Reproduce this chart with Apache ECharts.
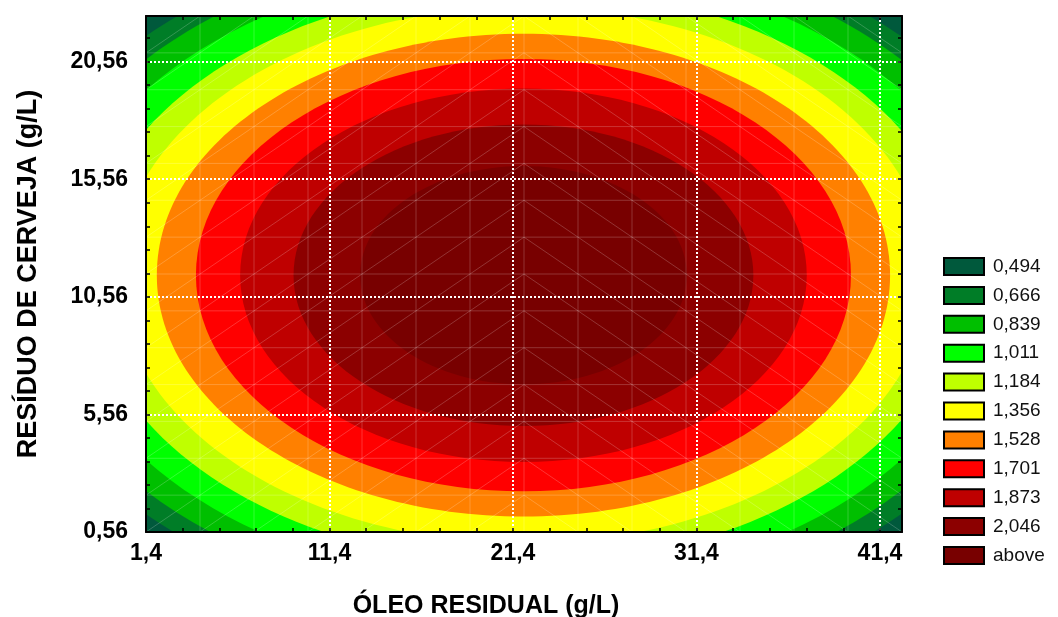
<!DOCTYPE html>
<html><head><meta charset="utf-8">
<script src="https://cdn.jsdelivr.net/npm/echarts@6/dist/echarts.min.js"></script>
<style>html,body{margin:0;padding:0;background:#fff}#c{width:1058px;height:617px}</style>
</head><body><div id="c"></div>
<script>
// ---- data ----
const levelLabels = ['0,494','0,666','0,839','1,011','1,184','1,356','1,528','1,701','1,873','2,046','above'];
const bandColors  = ['#00593c','#007d27','#00bf00','#00ff00','#bfff00','#ffff00','#ff8000','#ff0000','#bf0000','#8c0000','#780000'];
// contour boundaries (levels 0,494 ... 2,046) as ellipses in data units
const contourCenterX = [21.97, 21.97, 21.97, 21.97, 21.97, 21.97, 21.97, 21.97, 21.97, 21.97];
const contourCenterY = [11.48, 11.48, 11.48, 11.48, 11.48, 11.48, 11.48, 11.48, 11.48, 11.48];
const contourSemiX   = [28.5, 27.2, 25.6, 23.8, 22.1, 19.98, 17.85, 15.44, 12.53, 8.90];
const contourSemiY   = [14.69, 14.02, 13.2, 12.27, 11.39, 10.26, 9.19, 7.94, 6.41, 4.64];
const xTickValues = [1.4, 11.4, 21.4, 31.4, 41.4];
const yTickValues = [0.56, 5.56, 10.56, 15.56, 20.56];
const xRange = [1.4, 42.6];
const yRange = [0.56, 22.5];
const xTitle = 'ÓLEO RESIDUAL (g/L)';
const yTitle = 'RESÍDUO DE CERVEJA (g/L)';

// ---- chart ----
const chart = echarts.init(document.getElementById('c'), null, {renderer: 'canvas'});
const arial = "'Liberation Sans', Arial, sans-serif";

function fmtX(v) { return xTickValues.some(t => Math.abs(t - v) < 1e-6) ? v.toFixed(1).replace('.', ',') : ''; }
function fmtY(v) { return yTickValues.some(t => Math.abs(t - v) < 1e-6) ? v.toFixed(2).replace('.', ',') : ''; }

function renderBackground(params, api) {
  const cs = params.coordSys;
  return {type: 'rect', shape: {x: cs.x, y: cs.y, width: cs.width, height: cs.height}, style: {fill: api.visual('color')}};
}
function renderContour(params, api) {
  const c = api.coord([api.value(0), api.value(1)]);
  const s = api.size([api.value(2), api.value(3)]);
  return {type: 'ellipse', shape: {cx: c[0], cy: c[1], rx: s[0], ry: s[1]}, style: {fill: api.visual('color')}};
}
function renderMesh(params, api) {
  const cs = params.coordSys, n = 14, children = [];
  const cw = cs.width / n, ch = cs.height / n;
  const st = {stroke: 'rgba(255,255,255,0.2)', lineWidth: 1};
  for (let i = 1; i < n; i++) {
    children.push({type: 'line', shape: {x1: cs.x + i * cw, y1: cs.y, x2: cs.x + i * cw, y2: cs.y + cs.height}, style: st});
    children.push({type: 'line', shape: {x1: cs.x, y1: cs.y + i * ch, x2: cs.x + cs.width, y2: cs.y + i * ch}, style: st});
  }
  for (let i = 0; i < n; i++) {
    for (let j = 0; j < n; j++) {
      const x0 = cs.x + i * cw, y0 = cs.y + j * ch;
      if (i < n / 2) children.push({type: 'line', shape: {x1: x0, y1: y0 + ch, x2: x0 + cw, y2: y0}, style: st});
      else children.push({type: 'line', shape: {x1: x0, y1: y0, x2: x0 + cw, y2: y0 + ch}, style: st});
    }
  }
  return {type: 'group', children};
}

const series = [];
series.push({
  name: levelLabels[0], type: 'custom', xAxisIndex: 0, yAxisIndex: 0, clip: true, z: 2,
  itemStyle: {color: bandColors[0]}, renderItem: renderBackground,
  data: [[xRange[0], yRange[0]]], silent: true
});
for (let i = 1; i < levelLabels.length; i++) {
  series.push({
    name: levelLabels[i], type: 'custom', xAxisIndex: 0, yAxisIndex: 0, clip: true, z: 2,
    itemStyle: {color: bandColors[i]}, renderItem: renderContour, encode: {x: 0, y: 1},
    data: [[contourCenterX[i - 1], contourCenterY[i - 1], contourSemiX[i - 1], contourSemiY[i - 1]]], silent: true
  });
}
series.push({
  name: 'mesh', type: 'custom', xAxisIndex: 0, yAxisIndex: 0, clip: true, z: 3, silent: true,
  renderItem: renderMesh, data: [[xRange[0], yRange[0]]]
});

const tickAxis = (pos, min, max, interval) => ({
  type: 'value', position: pos, min, max, interval, z: 6,
  axisLine: {show: true, lineStyle: {color: '#000', width: 2}},
  axisTick: {show: true, inside: true, length: 4, lineStyle: {color: '#000', width: 1.5}},
  axisLabel: {show: false}, splitLine: {show: false}
});

chart.setOption({
  animation: false,
  backgroundColor: '#fff',
  grid: {left: 146, top: 16, width: 756, height: 516, containLabel: false, outerBoundsMode: 'none'},
  legend: {
    data: levelLabels, orient: 'vertical', left: 943, top: 257, padding: 0,
    icon: 'rect', itemWidth: 40, itemHeight: 17, itemGap: 9.9,
    itemStyle: {borderColor: '#000', borderWidth: 2},
    textStyle: {fontFamily: arial, fontSize: 19, color: '#111', lineHeight: 17, padding: [0, 0, 0, 4]},
    selectedMode: false
  },
  xAxis: [
    {
      type: 'value', position: 'bottom', min: xRange[0], max: xRange[1], interval: 10, z: 5,
      axisLine: {show: false}, axisTick: {show: false},
      axisLabel: {show: true, showMaxLabel: false, margin: 10, color: '#000', fontFamily: arial, fontWeight: 'bold', fontSize: 23, formatter: fmtX},
      splitLine: {show: true, showMinLine: false, showMaxLine: false, lineStyle: {color: '#fff', width: 2, type: [2, 2]}},
      name: xTitle, nameLocation: 'middle', nameGap: 62,
      nameTextStyle: {color: '#000', fontFamily: arial, fontWeight: 'bold', fontSize: 25, padding: [0, 76, 0, 0]}
    },
    tickAxis('bottom', xRange[0], xRange[1], 2),
    tickAxis('top', xRange[0], xRange[1], 2)
  ],
  yAxis: [
    {
      type: 'value', position: 'left', min: yRange[0], max: yRange[1], interval: 5, z: 5,
      axisLine: {show: false}, axisTick: {show: false},
      axisLabel: {show: true, showMaxLabel: false, margin: 18, color: '#000', fontFamily: arial, fontWeight: 'bold', fontSize: 23, formatter: fmtY},
      splitLine: {show: true, showMinLine: false, showMaxLine: false, lineStyle: {color: '#fff', width: 2, type: [2, 2]}},
      name: yTitle, nameLocation: 'middle', nameGap: 104, nameRotate: 90,
      nameTextStyle: {color: '#000', fontFamily: arial, fontWeight: 'bold', fontSize: 27}
    },
    tickAxis('left', yRange[0], yRange[1], 1),
    tickAxis('right', yRange[0], yRange[1], 1)
  ],
  series
});
</script>
</body></html>
